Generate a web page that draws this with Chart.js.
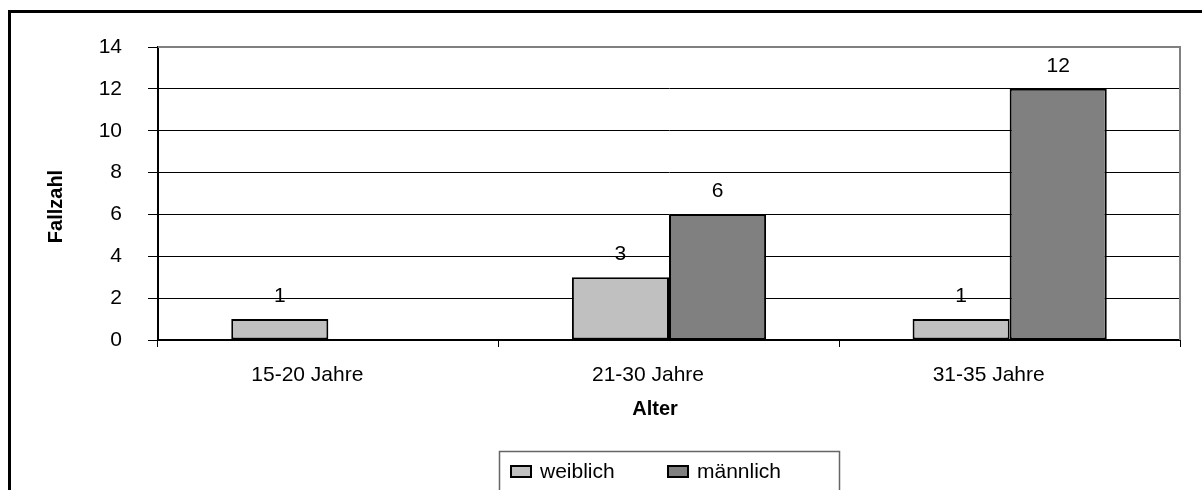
<!DOCTYPE html>
<html>
<head>
<meta charset="utf-8">
<script src="https://cdn.jsdelivr.net/npm/chart.js@4/dist/chart.umd.min.js"></script>
<style>
  html, body { margin: 0; padding: 0; background: #fff; }
  canvas { display: block; }
</style>
</head>
<body>
<canvas id="chart" width="1202" height="490"></canvas>
<script>
// Altersgruppen und Fallzahlen
const categories = ['15-20 Jahre', '21-30 Jahre', '31-35 Jahre'];
const weiblich = [1, 3, 1];
const maennlich = [null, 6, 12];
const seriesNames = ['weiblich', 'männlich'];
const yTicks = [0, 2, 4, 6, 8, 10, 12, 14];
const xTitle = 'Alter';
const yTitle = 'Fallzahl';

const FONT = "'Liberation Sans', Arial, sans-serif";

// Rahmen um das gesamte Diagramm und graue Plotflächen-Kante oben/rechts
const framePlugin = {
  id: 'frame',
  beforeDatasetsDraw(chart) {
    const { ctx, chartArea: a } = chart;
    ctx.save();
    ctx.strokeStyle = '#808080';
    ctx.lineWidth = 2;
    ctx.beginPath();
    ctx.moveTo(a.left, a.top);
    ctx.lineTo(a.right, a.top);
    ctx.lineTo(a.right, a.bottom);
    ctx.stroke();
    ctx.restore();
  },
  afterDraw(chart) {
    const { ctx } = chart;
    ctx.save();
    ctx.strokeStyle = '#000';
    ctx.lineWidth = 3;
    ctx.strokeRect(9.5, 11.5, 1400, 700);
    ctx.restore();
  }
};

// Achsentitel, leicht versetzt zur Plotmitte
const axisTitles = {
  id: 'axisTitles',
  afterDraw(chart) {
    const { ctx, chartArea: a } = chart;
    ctx.save();
    ctx.fillStyle = '#000';
    ctx.font = 'bold 20px ' + FONT;
    ctx.textAlign = 'center';
    ctx.textBaseline = 'middle';
    ctx.fillText(xTitle, (a.left + a.right) / 2 - 14, 409);
    ctx.translate(56, (a.top + a.bottom) / 2 + 13);
    ctx.rotate(-Math.PI / 2);
    ctx.fillText(yTitle, 0, 0);
    ctx.restore();
  }
};

// Wertbeschriftungen über den Säulen
const valueLabels = {
  id: 'valueLabels',
  afterDatasetsDraw(chart) {
    const { ctx } = chart;
    ctx.save();
    ctx.font = '21px ' + FONT;
    ctx.fillStyle = '#000';
    ctx.textAlign = 'center';
    ctx.textBaseline = 'middle';
    chart.data.datasets.forEach((ds, i) => {
      const meta = chart.getDatasetMeta(i);
      meta.data.forEach((bar, j) => {
        const v = ds.data[j];
        if (v === null || v === undefined) return;
        ctx.fillText(String(v), bar.x, bar.y - 23);
      });
    });
    ctx.restore();
  }
};

// Legende im Kasten unter der Achsenbeschriftung
const boxLegend = {
  id: 'boxLegend',
  afterDraw(chart) {
    const { ctx } = chart;
    ctx.save();
    ctx.strokeStyle = '#666';
    ctx.lineWidth = 1.5;
    ctx.strokeRect(499.5, 451.5, 340, 100);
    const xs = [511, 668];
    chart.data.datasets.forEach((ds, i) => {
      const x = xs[i];
      ctx.fillStyle = ds.backgroundColor;
      ctx.fillRect(x, 466, 20, 11);
      ctx.strokeStyle = '#000';
      ctx.lineWidth = 2;
      ctx.strokeRect(x, 466, 20, 11);
      ctx.fillStyle = '#000';
      ctx.font = '21px ' + FONT;
      ctx.textAlign = 'left';
      ctx.textBaseline = 'middle';
      ctx.fillText(ds.label, x + 29, 472);
    });
    ctx.restore();
  }
};

new Chart(document.getElementById('chart'), {
  type: 'bar',
  data: {
    labels: categories,
    datasets: [
      {
        label: seriesNames[0],
        data: weiblich,
        backgroundColor: '#C0C0C0',
        borderColor: '#000',
        borderWidth: 2,
        borderSkipped: false
      },
      {
        label: seriesNames[1],
        data: maennlich,
        backgroundColor: '#808080',
        borderColor: '#000',
        borderWidth: 2,
        borderSkipped: false
      }
    ]
  },
  options: {
    responsive: false,
    animation: false,
    devicePixelRatio: 1,
    layout: { padding: { top: 47, right: 22, left: 0, bottom: 0 } },
    datasets: { bar: { categoryPercentage: 0.57, barPercentage: 1.0 } },
    plugins: {
      legend: { display: false },
      tooltip: { enabled: false }
    },
    scales: {
      x: {
        afterFit(scale) { scale.height = 150; },
        grid: {
          display: true,
          drawOnChartArea: false,
          drawTicks: true,
          tickLength: 7,
          color: '#000',
          lineWidth: 1
        },
        border: { display: true, color: '#000', width: 2 },
        ticks: {
          color: '#000',
          padding: 16,
          labelOffset: -21,
          font: { family: FONT, size: 21 }
        },
        title: { display: false }
      },
      y: {
        min: 0,
        max: 14,
        afterFit(scale) { scale.width = 158; },
        afterBuildTicks(scale) { scale.ticks = yTicks.map(v => ({ value: v })); },
        grid: {
          color: '#000',
          lineWidth: 1,
          drawTicks: true,
          tickLength: 10
        },
        border: { display: true, color: '#000', width: 2 },
        ticks: {
          color: '#000',
          padding: 26,
          font: { family: FONT, size: 21 }
        },
        title: { display: false }
      }
    }
  },
  plugins: [framePlugin, axisTitles, valueLabels, boxLegend]
});
</script>
</body>
</html>
